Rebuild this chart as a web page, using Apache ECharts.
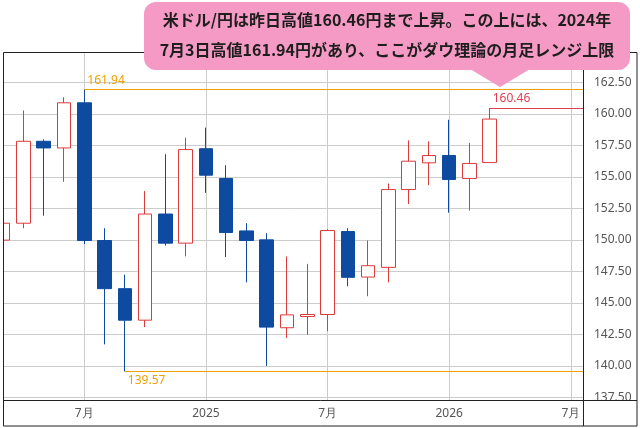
<!DOCTYPE html>
<html><head><meta charset="utf-8">
<script src="https://cdn.jsdelivr.net/npm/echarts@6/dist/echarts.min.js"></script>
<style>html,body{margin:0;padding:0;background:#fff}#c{width:640px;height:428px}</style>
</head><body><div id="c"></div>
<script>
// ---- data ----
const months = ['2024-03','2024-04','2024-05','2024-06','2024-07','2024-08','2024-09','2024-10','2024-11','2024-12',
  '2025-01','2025-02','2025-03','2025-04','2025-05','2025-06','2025-07','2025-08','2025-09','2025-10','2025-11','2025-12',
  '2026-01','2026-02','2026-03'];
const openV  = [149.98,151.32,157.82,157.29,160.87,149.95,146.13,143.63,152.05,149.74,
  157.23,154.87,150.71,150.00,143.03,143.92,144.08,150.66,147.05,147.82,153.99,156.11,
  156.69,154.87,156.13];
const closeV = [151.32,157.82,157.29,160.87,149.95,146.13,143.63,152.05,149.74,157.16,
  155.13,150.58,149.95,143.08,144.05,144.08,150.74,147.03,147.95,153.99,156.24,156.69,
  154.79,156.06,159.58];
const lowV   = [146.48,150.92,151.92,154.60,149.66,141.71,139.57,143.08,149.55,148.69,
  153.73,148.63,146.63,140.00,142.21,142.47,142.76,146.32,145.53,146.63,152.84,154.34,
  152.16,152.32,156.13];
const highV  = [151.97,160.26,157.97,161.31,161.94,150.92,147.24,153.87,156.79,158.11,
  158.90,155.92,151.32,150.53,148.69,148.10,150.85,150.92,149.95,154.47,157.89,157.82,
  159.53,157.69,160.46];
const yTicks = [137.5,140,142.5,145,147.5,150,152.5,155,157.5,160,162.5];
const xTickMonths = ['2024-07','2025-01','2025-07','2026-01','2026-07'];
const levelValues = [161.94, 139.57, 160.46];
const levelStartMonths = ['2024-07','2024-09','2026-03'];
const calloutLines = ['米ドル/円は昨日高値160.46円まで上昇。この上には、2024年',
  '7月3日高値161.94円があり、ここがダウ理論の月足レンジ上限'];

// ---- helpers ----
function mIdx(s){ const p = s.split('-').map(Number); return (p[0]-2024)*12 + (p[1]-7); }
function mLabel(v){ const a = 2024*12 + 6 + Math.round(v); const y = Math.floor(a/12), m = a%12 + 1; return m===1 ? String(y) : m + '月'; }

const X_MIN = -4.01, X_MAX = 24.65;
const ORANGE = '#f0a000', RED_LVL = '#e0404f', BLUE = '#0d4aa0', RED = '#dc3b3b';
const levelColors = [ORANGE, ORANGE, RED_LVL];
const levelPos = ['insideStartTop','insideStartBottom','insideStartTop'];

const candleData = months.map((m,i)=>[mIdx(m), openV[i], closeV[i], lowV[i], highV[i]]);
const markData = levelValues.map((v,i)=>{
  const ls = {color:levelColors[i], width:1, type:'solid', opacity:1};
  return [
    {coord:[mIdx(levelStartMonths[i]), v], lineStyle:ls, itemStyle:{color:levelColors[i]},
     label:{show:true, position:levelPos[i], formatter:v.toFixed(2), color:levelColors[i], fontSize:12, distance:3,
            fontFamily:'Noto Sans, sans-serif'}},
    {coord:[X_MAX, v], lineStyle:ls, itemStyle:{color:levelColors[i]}}
  ];
});

const chart = echarts.init(document.getElementById('c'), null, {renderer:'canvas'});
chart.setOption({
  animation:false,
  backgroundColor:'#fff',
  grid:{left:3, right:56, top:52, bottom:27, containLabel:false},
  xAxis:{type:'value', min:X_MIN, max:X_MAX,
    axisLine:{show:false}, axisTick:{show:false, customValues:xTickMonths.map(mIdx)},
    axisLabel:{customValues:xTickMonths.map(mIdx), formatter:mLabel, color:'#555', fontSize:12, margin:7,
      fontFamily:'Noto Sans, sans-serif'},
    splitLine:{show:true, lineStyle:{color:'#cccccc', width:1}}},
  yAxis:{type:'value', position:'right', min:137.22, max:164.90, scale:true,
    axisLine:{show:false}, axisTick:{show:false, customValues:yTicks},
    axisLabel:{customValues:yTicks, formatter:v=>v.toFixed(2), color:'#555', fontSize:12, margin:10,
      fontFamily:'Noto Sans, sans-serif'},
    splitLine:{show:true, lineStyle:{color:'#cccccc', width:1}}},
  series:[{
    type:'candlestick', data:candleData, encode:{x:0, y:[1,2,3,4]},
    barWidth:14,
    itemStyle:{color:'#ffffff', color0:BLUE, borderColor:RED, borderColor0:BLUE, borderWidth:1},
    markLine:{silent:true, symbol:['none','none'], animation:false, z:3, data:markData}
  }],
  graphic:[
    {type:'rect', z:100, shape:{x:0,y:52,width:3,height:376}, style:{fill:'#fff'}},
    {type:'rect', z:100, shape:{x:584,y:401,width:53,height:25}, style:{fill:'#fff'}},
    {type:'rect', z:101, shape:{x:3.5,y:52.5,width:633.5,height:373.5}, style:{fill:'none', stroke:'#222', lineWidth:1}},
    {type:'line', z:101, shape:{x1:583.5,y1:52.5,x2:583.5,y2:426}, style:{stroke:'#222', lineWidth:1}},
    {type:'line', z:101, shape:{x1:3.5,y1:400.5,x2:637,y2:400.5}, style:{stroke:'#222', lineWidth:1}},
    {type:'rect', z:110, shape:{x:144,y:2,width:486,height:68,r:12}, style:{fill:'#f59ac4'}},
    {type:'polygon', z:110, shape:{points:[[470,69],[530,69],[500,87]]}, style:{fill:'#f59ac4'}},
    {type:'text', z:111, style:{text:calloutLines[0], x:387, y:20, textAlign:'center', align:'center',
      textVerticalAlign:'middle', verticalAlign:'middle', font:'bold 16px "Noto Sans CJK JP", sans-serif', fill:'#1e1e1e'}},
    {type:'text', z:111, style:{text:calloutLines[1], x:387, y:50, textAlign:'center', align:'center',
      textVerticalAlign:'middle', verticalAlign:'middle', font:'bold 16px "Noto Sans CJK JP", sans-serif', fill:'#1e1e1e'}}
  ]
});
</script></body></html>
